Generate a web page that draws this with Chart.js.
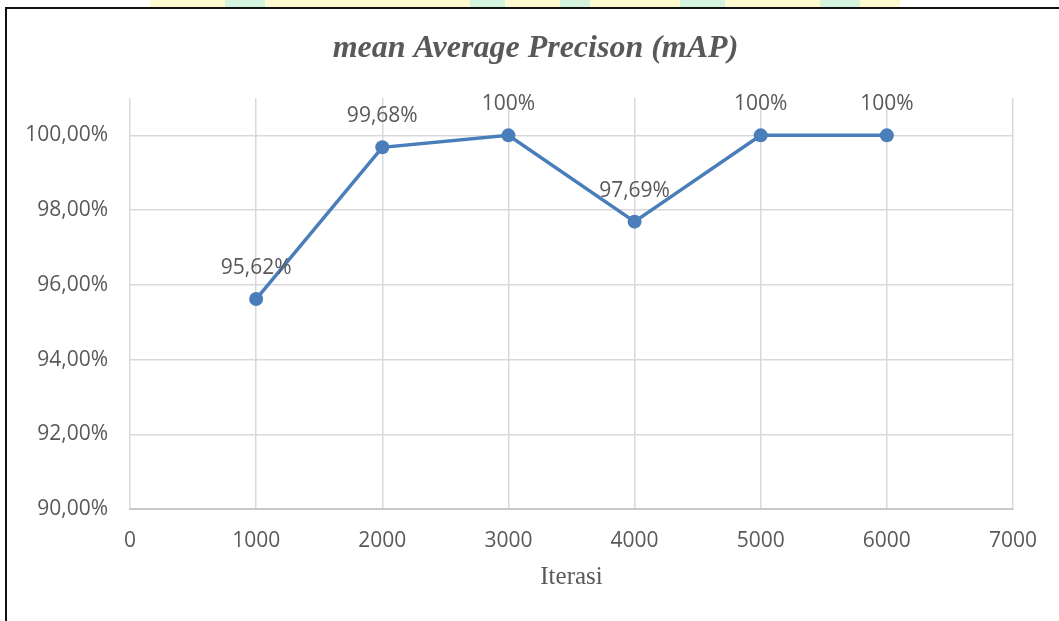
<!DOCTYPE html>
<html>
<head>
<meta charset="utf-8">
<script src="https://cdn.jsdelivr.net/npm/chart.js@4.4.1/dist/chart.umd.min.js"></script>
<style>
  html, body { margin: 0; padding: 0; background: #ffffff; }
  #wrap { position: relative; width: 1059px; height: 621px; overflow: hidden; }
  #chart { position: absolute; left: 0; top: 0; }
  .frame-top { position: absolute; left: 5px; top: 7px; width: 1054px; height: 2px; background: #111; }
  .frame-left { position: absolute; left: 5px; top: 7px; width: 2px; height: 614px; background: #111; }
  .tint { position: absolute; top: 0; height: 7px; }
</style>
</head>
<body>
<div id="wrap">
  <div class="tint" style="left:150px;width:750px;background:#fdfad0;"></div>
  <div class="tint" style="left:225px;width:40px;background:#d6f3e0;"></div>
  <div class="tint" style="left:470px;width:35px;background:#d6f3e0;"></div>
  <div class="tint" style="left:560px;width:30px;background:#d6f3e0;"></div>
  <div class="tint" style="left:680px;width:45px;background:#d6f3e0;"></div>
  <div class="tint" style="left:820px;width:40px;background:#d6f3e0;"></div>
  <canvas id="chart" width="1059" height="621"></canvas>
  <div class="frame-top"></div>
  <div class="frame-left"></div>
</div>
<script>
// Iterations and the measured mAP (%) at each checkpoint
const iterations = [1000, 2000, 3000, 4000, 5000, 6000];
const mapValues = [95.62, 99.68, 100, 97.69, 100, 100];
const pointLabels = ['95,62%', '99,68%', '100%', '97,69%', '100%', '100%'];

// Axis tick values and their printed labels
const xTicks = [0, 1000, 2000, 3000, 4000, 5000, 6000, 7000];
const xTickLabels = ['0', '1000', '2000', '3000', '4000', '5000', '6000', '7000'];
const yTicks = [90, 92, 94, 96, 98, 100];
const yTickLabels = ['90,00%', '92,00%', '94,00%', '96,00%', '98,00%', '100,00%'];

const chartTitle = 'mean Average Precison (mAP)';

const textGrey = '#595959';
const lineBlue = '#4a7ebb';
const gridGrey = '#d9d9d9';

// Chart heading, centred over the framed area
const heading = {
  id: 'heading',
  afterDraw(chart) {
    const ctx = chart.ctx;
    ctx.save();
    ctx.font = 'italic bold 32px "Liberation Serif"';
    ctx.fillStyle = textGrey;
    ctx.textAlign = 'center';
    ctx.textBaseline = 'alphabetic';
    ctx.fillText(chartTitle, chart.width / 2 + 6, 57);
    ctx.restore();
  }
};

// Writes each point's value just above its marker
const valueLabels = {
  id: 'valueLabels',
  afterDatasetsDraw(chart) {
    const ctx = chart.ctx;
    const meta = chart.getDatasetMeta(0);
    ctx.save();
    ctx.font = '21px "Open Sans"';
    ctx.fillStyle = textGrey;
    ctx.textAlign = 'center';
    ctx.textBaseline = 'middle';
    meta.data.forEach((pt, i) => {
      ctx.fillText(pointLabels[i], pt.x, pt.y - 31);
    });
    ctx.restore();
  }
};

new Chart(document.getElementById('chart'), {
  type: 'line',
  data: {
    datasets: [{
      data: iterations.map((x, i) => ({ x: x, y: mapValues[i] })),
      borderColor: lineBlue,
      backgroundColor: lineBlue,
      borderWidth: 3.5,
      pointRadius: 7,
      pointHoverRadius: 7,
      pointBorderWidth: 0,
      tension: 0,
      fill: false
    }]
  },
  options: {
    responsive: false,
    animation: false,
    events: [],
    layout: { padding: { left: 0, right: 46, top: 98, bottom: 0 } },
    plugins: {
      legend: { display: false },
      tooltip: { enabled: false },
      title: { display: false }
    },
    scales: {
      x: {
        type: 'linear',
        min: 0,
        max: 7000,
        afterBuildTicks(scale) { scale.ticks = xTicks.map(v => ({ value: v })); },
        afterFit(scale) { scale.height = 112; },
        ticks: {
          color: textGrey,
          font: { family: '"Open Sans"', size: 21 },
          padding: 19,
          maxRotation: 0,
          callback: (v) => xTickLabels[xTicks.indexOf(v)]
        },
        grid: { color: gridGrey, lineWidth: 1.5, drawTicks: false },
        border: { color: '#c8c8c8', width: 2 },
        title: {
          display: true,
          text: 'Iterasi',
          color: textGrey,
          font: { family: '"Liberation Serif"', size: 25 },
          padding: { top: 4, bottom: 29 }
        }
      },
      y: {
        type: 'linear',
        min: 90,
        max: 101,
        afterBuildTicks(scale) { scale.ticks = yTicks.map(v => ({ value: v })); },
        afterFit(scale) { scale.width = 130; },
        ticks: {
          color: textGrey,
          font: { family: '"Open Sans"', size: 21 },
          padding: 22,
          callback: (v) => yTickLabels[yTicks.indexOf(v)]
        },
        grid: { color: gridGrey, lineWidth: 1.5, drawTicks: false },
        border: { display: false }
      }
    }
  },
  plugins: [valueLabels, heading]
});
</script>
</body>
</html>
